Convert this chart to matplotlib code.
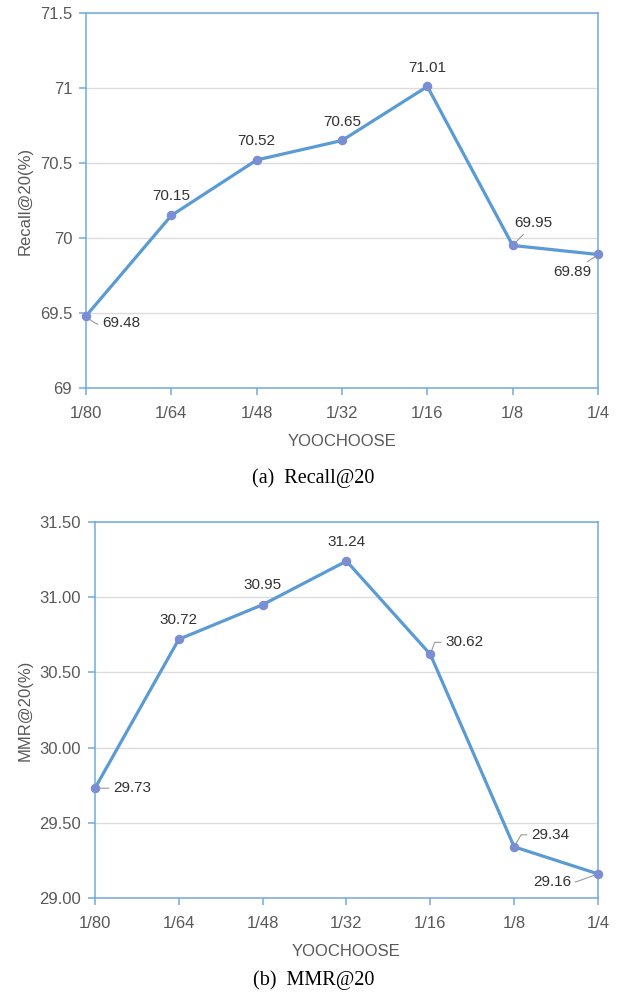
"""
Recall@20 and MMR@20 on YOOCHOOSE splits, two stacked line panels.
"""

import matplotlib
matplotlib.use("Agg")
from matplotlib import pyplot as plt
from matplotlib.ticker import FormatStrFormatter

plt.rcParams["font.family"] = ["Liberation Sans", "DejaVu Sans"]

# Data
splits = ["1/80", "1/64", "1/48", "1/32", "1/16", "1/8", "1/4"]
recall = [69.48, 70.15, 70.52, 70.65, 71.01, 69.95, 69.89]
mmr = [29.73, 30.72, 30.95, 31.24, 30.62, 29.34, 29.16]
recall_ticks = [69, 69.5, 70, 70.5, 71, 71.5]
mmr_ticks = [29.0, 29.5, 30.0, 30.5, 31.0, 31.5]

# Styles
LINE = "#5b9bd5"
MARK = "#7b8dd3"
SPINE = "#72aadf"
GRID = "#dcdcdc"
TICK_TXT = "#595959"
LBL_TXT = "#333333"
LEAD = "#9a9a9a"

# label placement per point: (dx px, dy px, ha, connection style or None)
recall_lbl = [
    (16, -7, "left", "arc3,rad=-0.35"),
    (0, 19, "center", None),
    (0, 19, "center", None),
    (0, 18, "center", None),
    (0, 18, "center", None),
    (21, 22, "center", "arc3"),
    (-26, -18, "center", "arc3"),
]
mmr_lbl = [
    (18, 0, "left", "arc3"),
    (0, 19, "center", None),
    (0, 20, "center", None),
    (0, 19, "center", None),
    (15, 12, "left", "angle,angleA=0,angleB=70,rad=0"),
    (17, 12, "left", "angle,angleA=0,angleB=60,rad=0"),
    (-27, -8, "right", "angle,angleA=0,angleB=20,rad=0"),
]


def draw_panel(ax, values, ticks, fmt, ylabel, labels):
    x = list(range(len(splits)))
    ax.plot(x, values, color=LINE, lw=2.3, zorder=3, clip_on=False)
    ax.scatter(x, values, s=34, color=MARK, zorder=4, clip_on=False)
    ax.set_xlim(0, len(splits) - 1)
    ax.set_ylim(ticks[0], ticks[-1])
    ax.set_xticks(x)
    ax.set_xticklabels(splits)
    ax.set_yticks(ticks)
    ax.yaxis.set_major_formatter(FormatStrFormatter(fmt))
    ax.grid(axis="y", color=GRID, lw=1)
    ax.set_axisbelow(True)
    for s in ax.spines.values():
        s.set_color(SPINE)
        s.set_linewidth(1.1)
    ax.tick_params(axis="both", colors=SPINE, labelcolor=TICK_TXT, labelsize=12,
                   length=5, width=1.1)
    ax.tick_params(axis="x", pad=8)
    ax.tick_params(axis="y", pad=5)
    ax.set_xlabel("YOOCHOOSE", color=TICK_TXT, fontsize=12, labelpad=9)
    ax.set_ylabel(ylabel, color=TICK_TXT, fontsize=12, labelpad=5)

    for xi, v, (dx, dy, ha, conn) in zip(x, values, labels):
        arrow = None
        if conn is not None:
            arrow = dict(arrowstyle="-", color=LEAD, lw=0.8, connectionstyle=conn,
                         shrinkA=1, shrinkB=3)
        ax.annotate(f"{v:.2f}", xy=(xi, v), xytext=(dx, dy), textcoords="offset pixels",
                    ha=ha, va="center", fontsize=11, color=LBL_TXT,
                    arrowprops=arrow, annotation_clip=False)


fig = plt.figure(figsize=(6.27, 9.92), dpi=100)
ax1 = fig.add_axes([0.1372, 0.6089, 0.8166, 0.3780])
ax2 = fig.add_axes([0.1515, 0.0948, 0.8022, 0.3790])

draw_panel(ax1, recall, recall_ticks, "%g", "Recall@20(%)", recall_lbl)
draw_panel(ax2, mmr, mmr_ticks, "%.2f", "MMR@20(%)", mmr_lbl)

fig.text(0.5, 1 - 478 / 992, "(a)  Recall@20", ha="center", va="center",
         family="Liberation Serif", fontsize=14.5, color="black")
fig.text(0.5, 1 - 980 / 992, "(b)  MMR@20", ha="center", va="center",
         family="Liberation Serif", fontsize=14.5, color="black")

fig.savefig("out.png", dpi=100)
